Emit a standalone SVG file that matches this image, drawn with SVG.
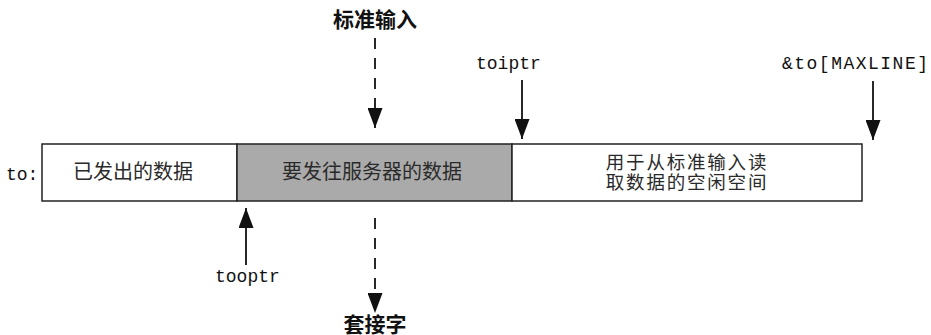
<svg xmlns="http://www.w3.org/2000/svg" width="931" height="335" viewBox="0 0 931 335">
<style>
.box{stroke:#222;stroke-width:1.5}
.cn{font-family:"Liberation Sans","Noto Sans CJK SC",sans-serif;font-size:20px;fill:#2a2a2a;text-anchor:middle}
.cn2{font-family:"Liberation Sans","Noto Sans CJK SC",sans-serif;font-size:18.5px;fill:#2a2a2a;text-anchor:middle;letter-spacing:1.8px}
.cnb{font-family:"Liberation Sans","Noto Sans CJK SC",sans-serif;font-size:21px;font-weight:bold;fill:#111;text-anchor:middle}
.mono{font-family:"Liberation Mono",monospace;font-size:18px;fill:#111}
.ln{stroke:#111;stroke-width:1.8;fill:none}
.dash{stroke:#111;stroke-width:1.8;fill:none;stroke-dasharray:11 9}
</style>
<defs>
<marker id="ah" viewBox="0 0 20 15" refX="20" refY="7.5" markerWidth="20" markerHeight="15" markerUnits="userSpaceOnUse" orient="auto">
<path d="M0,0 L20,7.5 L0,15 Z" fill="#111"/>
</marker>
</defs>
<g id="buffer">
<g id="sent">
<rect class="box" x="42" y="144" width="195" height="57" fill="#fff"/>
<text class="cn" x="133" y="179">已发出的数据</text>
</g>
<g id="tosend">
<rect class="box" x="237" y="144" width="275" height="57" fill="#aaaaaa"/>
<text class="cn" x="372" y="179">要发往服务器的数据</text>
</g>
<g id="free">
<rect class="box" x="512" y="144" width="350" height="57" fill="#fff"/>
<text class="cn2" x="687" y="169">用于从标准输入读</text>
<text class="cn2" x="687" y="189">取数据的空闲空间</text>
</g>
</g>
<g id="labels">
<text class="mono" x="6" y="180">to:</text>
<text class="mono" x="476" y="69">toiptr</text>
<text class="mono" x="782" y="69" textLength="146">&amp;to[MAXLINE]</text>
<text class="mono" x="215" y="282">tooptr</text>
<text class="cnb" x="375" y="27">标准输入</text>
<text class="cnb" x="375" y="332">套接字</text>
</g>
<g id="connectors">
<line class="dash" x1="375" y1="38" x2="375" y2="128" marker-end="url(#ah)"/>
<line class="dash" x1="375" y1="218" x2="375" y2="313" marker-end="url(#ah)"/>
<line class="ln" x1="522" y1="80" x2="522" y2="139" marker-end="url(#ah)"/>
<line class="ln" x1="873" y1="81" x2="873" y2="140" marker-end="url(#ah)"/>
<line class="ln" x1="246" y1="265" x2="246" y2="208" marker-end="url(#ah)"/>
</g>
</svg>
